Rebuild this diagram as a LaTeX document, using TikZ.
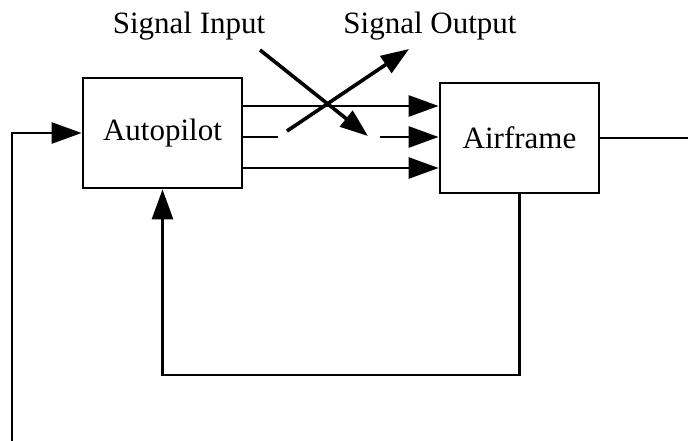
\documentclass[tikz,border=0pt]{standalone}
\usepackage{fontspec}
\setmainfont{Liberation Serif}
\usetikzlibrary{arrows.meta}
\begin{document}
\begin{tikzpicture}[x=1pt,y=-1pt,
  blk/.style={draw,line width=2.8pt,minimum width=159pt,minimum height=110pt,inner sep=0pt,font=\fontsize{31}{36}\selectfont},
  lbl/.style={font=\fontsize{31}{36}\selectfont,inner sep=0pt},
  wire/.style={line width=2.8pt},
  arr/.style={wire,-{Triangle[length=30pt,width=21pt]}},
  sarr/.style={line width=3.6pt,-{Triangle[length=28pt,width=20pt]}}]
\useasboundingbox (0,0) rectangle (688,441);
\node[blk] (ap) at (162.5,133) {Autopilot};
\node[blk] (af) at (519.5,138) {Airframe};
\node[lbl] (sin) at (189,26) {Signal Input};
\node[lbl] (sout) at (430,26) {Signal Output};
% forward paths
\draw[arr] (ap.east |- 0,106) -- (af.west |- 0,106);
\draw[arr] (ap.east |- 0,168) -- (af.west |- 0,168);
\coordinate (g1) at (278,137);
\coordinate (g2) at (380,137);
\draw[wire] (ap.east |- 0,137) -- (g1);
\draw[arr] (g2) -- (af.west |- 0,137);
% signal input / output crossing arrows
\coordinate (si1) at (260,50);
\coordinate (si2) at (368,136);
\coordinate (so1) at (287,131);
\coordinate (so2) at (409,49);
\draw[sarr] (si1) -- (si2);
\draw[sarr] (so1) -- (so2);
% outer loop
\coordinate (inL) at (12,441);
\draw[arr] (inL) |- (ap.west);
\coordinate (outR) at (688,138);
\draw[wire] (af.east) -- (outR);
% inner feedback
\coordinate (fb) at (520,375);
\draw[arr] (af.south) -- (af.south |- fb) -| (ap.south);
\end{tikzpicture}
\end{document}
